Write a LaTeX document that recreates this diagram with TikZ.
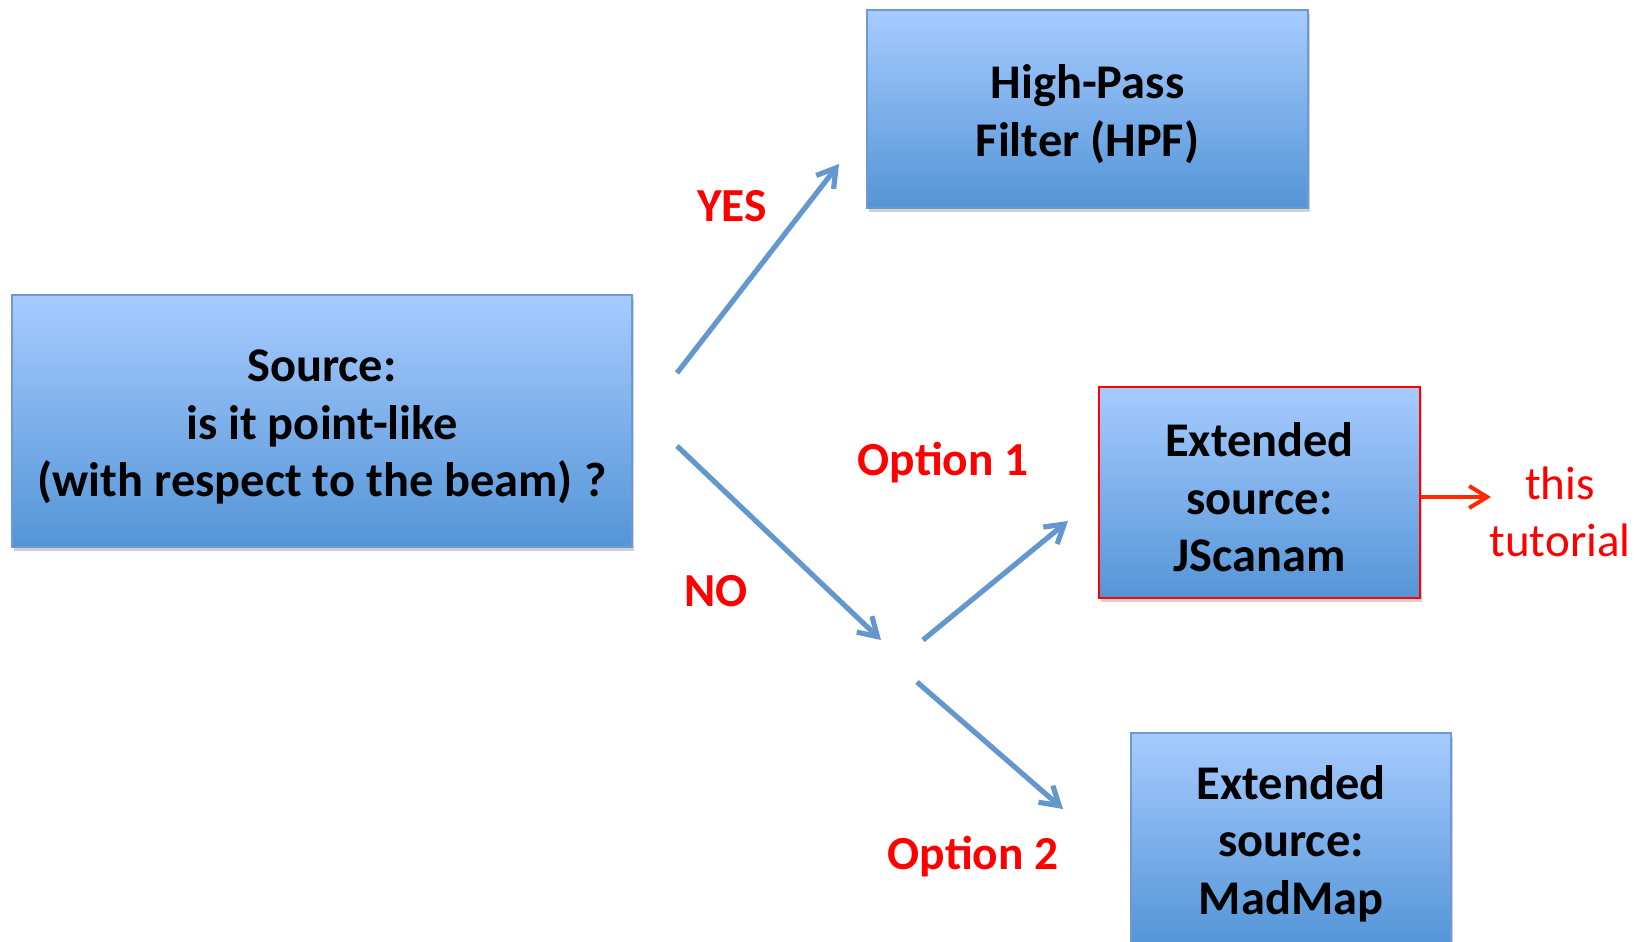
\documentclass[tikz,border=0pt]{standalone}
\usepackage{fontspec}
\setmainfont{Carlito}
\usetikzlibrary{arrows.meta,shadows}
\definecolor{boxtop}{RGB}{167,203,255}
\definecolor{boxbot}{RGB}{84,149,215}
\definecolor{boxline}{RGB}{108,155,210}
\definecolor{arrowblue}{RGB}{99,151,206}
\definecolor{tutred}{RGB}{255,40,0}
\newcommand{\topgap}{\rule{0pt}{22pt}}

\begin{document}
\begin{tikzpicture}[x=0.5pt, y=-0.5pt,
		box/.style={draw=boxline, line width=1pt, top color=boxtop, bottom color=boxbot, inner sep=0pt, align=center,
			font=\fontsize{24.2}{28.7}\selectfont\bfseries,
			drop shadow={shadow xshift=1pt, shadow yshift=-2pt, opacity=0.3, fill=black!60}},
		answer/.style={text=red, font=\fontsize{23.7}{28.5}\selectfont\bfseries},
		flow/.style={arrowblue, line width=2.6pt, -{Straight Barb[length=9pt,width=11pt]}}]
		\useasboundingbox (0,0) rectangle (1649,942);

		% boxes
		\node[box, minimum width=310pt, minimum height=126pt] (src) at (322,421) {\topgap Source:\\is it point-like\\(with respect to the beam) ?};
		\node[box, minimum width=220.5pt, minimum height=99pt] (hpf) at (1087.5,109) {\topgap High-Pass\\Filter (HPF)};
		\node[box, draw=red, minimum width=160.5pt, minimum height=105.5pt] (jsc) at (1259.5,492.5) {\topgap Extended\\source:\\JScanam};
		\node[box, minimum width=160pt, minimum height=105.5pt] (mad) at (1291,838.5) {\topgap Extended\\source:\\MadMap};

		% labels
		\node[answer] (yes) at (732,206) {YES};
		\node[answer] (no) at (716,591) {NO};
		\node[answer] (opt1) at (943,463) {Option 1};
		\node[answer] (opt2) at (973,857) {Option 2};
		\node[text=red, align=center, font=\fontsize{23.5}{28.5}\selectfont] (tut) at (1560,512) {this\\tutorial};

		% arrow ends
		\coordinate (yes0) at (677,373);
		\coordinate (yes1) at (839,164);
		\coordinate (no0) at (677,446);
		\coordinate (no1) at (881,640);
		\coordinate (op1a) at (923,640);
		\coordinate (op1b) at (1068,521);
		\coordinate (op2a) at (917,682);
		\coordinate (op2b) at (1063,809);
		\coordinate (tutarr) at (1491,497);

		\draw[flow] (yes0) -- (yes1);
		\draw[flow] (no0) -- (no1);
		\draw[flow] (op1a) -- (op1b);
		\draw[flow] (op2a) -- (op2b);
		\draw[tutred, line width=2pt, -{Straight Barb[length=9pt,width=11pt]}] (jsc.east |- tutarr) -- (tutarr);
	\end{tikzpicture}
\end{document}
